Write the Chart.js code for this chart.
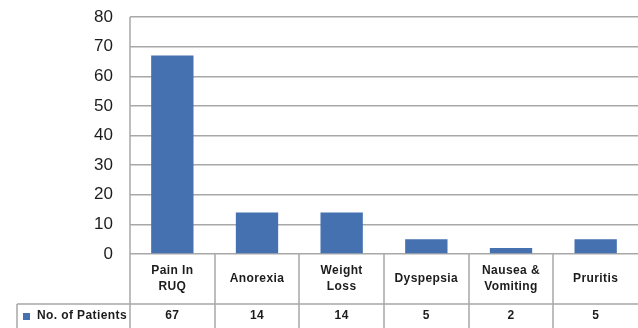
<!DOCTYPE html>
<html>
<head>
<meta charset="utf-8">
<script src="https://cdn.jsdelivr.net/npm/chart.js@4/dist/chart.umd.min.js"></script>
<style>
  html, body { margin: 0; padding: 0; background: #fff; }
  #wrap { width: 638px; height: 328px; position: relative; }
</style>
</head>
<body>
<div id="wrap"><canvas id="c" width="638" height="328"></canvas></div>
<script>
// Symptoms and patient counts
const categories = [["Pain In", "RUQ"], ["Anorexia"], ["Weight", "Loss"], ["Dyspepsia"], ["Nausea &", "Vomiting"], ["Pruritis"]];
const seriesName = "No. of Patients";
const patients = [67, 14, 14, 5, 2, 5];
const yTicks = [0, 10, 20, 30, 40, 50, 60, 70, 80];

const BAR = "#4571b0";
const GRID = "#a8a8a8";
const TEXT = "#1c1c1c";
const FONT = "Liberation Sans, Arial, sans-serif";

// Data table drawn beneath the plot, aligned to the category scale
const dataTable = {
  id: "dataTable",
  afterDraw(chart) {
    const ctx = chart.ctx;
    const x = chart.scales.x;
    const area = chart.chartArea;
    const n = categories.length;
    const half = (x.getPixelForValue(1) - x.getPixelForValue(0)) / 2;
    const top = area.bottom;
    const rowSplit = top + 50;
    const bottom = chart.height;
    const tableLeft = 17;

    ctx.save();
    ctx.strokeStyle = GRID;
    ctx.lineWidth = 1.5;
    ctx.beginPath();
    // horizontal rule between header row and value row
    ctx.moveTo(tableLeft, rowSplit); ctx.lineTo(area.right, rowSplit);
    // left edge of series cell
    ctx.moveTo(tableLeft, rowSplit); ctx.lineTo(tableLeft, bottom);
    // plot left edge and category separators
    ctx.moveTo(area.left, area.top); ctx.lineTo(area.left, bottom);
    for (let i = 0; i < n - 1; i++) {
      const bx = Math.round(x.getPixelForValue(i) + half);
      ctx.moveTo(bx, top); ctx.lineTo(bx, bottom);
    }
    ctx.stroke();

    ctx.fillStyle = TEXT;
    ctx.font = "bold 12px " + FONT;
    ctx.letterSpacing = "0.4px";
    ctx.textAlign = "center";
    ctx.textBaseline = "middle";
    const mid = (top + rowSplit) / 2;
    categories.forEach((lines, i) => {
      const cx = x.getPixelForValue(i);
      const lh = 16;
      const y0 = mid - (lines.length - 1) * lh / 2;
      lines.forEach((t, j) => ctx.fillText(t, cx, y0 + j * lh));
      ctx.fillText(String(patients[i]), cx, rowSplit + 12);
    });

    // series key
    ctx.fillStyle = BAR;
    ctx.fillRect(23, rowSplit + 9, 7, 7);
    ctx.fillStyle = TEXT;
    ctx.textAlign = "left";
    ctx.fillText(seriesName, 37, rowSplit + 12);
    ctx.restore();
  }
};

new Chart(document.getElementById("c"), {
  type: "bar",
  data: {
    labels: categories.map(l => l.join(" ")),
    datasets: [{
      label: seriesName,
      data: patients,
      backgroundColor: BAR,
      borderWidth: 0,
      barPercentage: 0.5,
      categoryPercentage: 1.0
    }]
  },
  options: {
    responsive: false,
    animation: false,
    devicePixelRatio: 1,
    layout: { padding: { top: 17, right: 0, bottom: 74, left: 0 } },
    plugins: { legend: { display: false }, tooltip: { enabled: false } },
    scales: {
      x: {
        display: false,
        offset: true,
        grid: { display: false }
      },
      y: {
        min: 0,
        max: 80,
        afterBuildTicks(axis) { axis.ticks = yTicks.map(v => ({ value: v })); },
        afterFit(axis) {
          axis.width = 130;
          axis.paddingTop = 0;
          axis.paddingBottom = 0;
        },
        border: { display: false },
        grid: { color: GRID, lineWidth: 1.5, drawTicks: false },
        ticks: {
          color: TEXT,
          padding: 17,
          font: { family: FONT, size: 17 }
        }
      }
    }
  },
  plugins: [dataTable]
});
</script>
</body>
</html>
